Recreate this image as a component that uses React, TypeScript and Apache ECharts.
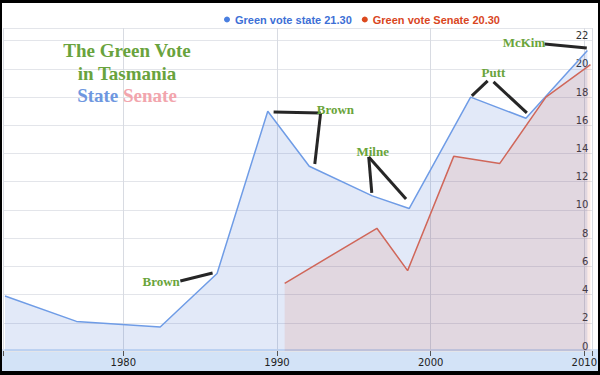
import React, { useEffect, useRef } from "react";
import * as echarts from "echarts";

// State election results (year, % Green vote)
const stateYears = [1972.3, 1976.95, 1982.4, 1986.1, 1989.4, 1992.1, 1996.2, 1998.6, 2002.6, 2006.2, 2010.2];
const stateVotes = [3.9, 2.1, 1.7, 5.5, 17.0, 13.1, 11.0, 10.1, 18.0, 16.5, 21.3];

// Senate election results in Tasmania
const senateYears = [1990.5, 1996.5, 1998.5, 2001.5, 2004.5, 2007.5, 2010.4];
const senateVotes = [4.8, 8.7, 5.7, 13.8, 13.3, 18.0, 20.3];

const seriesNames = ["Green vote state", "Green vote Senate"];

// Annotations (names of leaders) in data coordinates
const annotationLabels = ["Brown", "Brown", "Milne", "Putt", "McKim"];
const annotationLabelPos = [
  [1982.46, 4.96],
  [1993.8, 17.09],
  [1996.23, 14.11],
  [2004.09, 19.72],
  [2006.07, 21.84],
];
const annotationSegments = [
  [[1983.71, 4.96], [1985.81, 5.53]],
  [[1989.78, 16.95], [1992.84, 16.88]],
  [[1992.84, 16.88], [1992.46, 13.26]],
  [[1995.97, 13.76], [1996.17, 11.21]],
  [[1995.97, 13.76], [1998.4, 10.78]],
  [[2002.68, 18.09], [2003.71, 19.15]],
  [[2004.09, 19.08], [2006.26, 16.88]],
  [[2007.41, 21.77], [2010.16, 21.49]],
];

export default function App() {
  const ref = useRef<HTMLDivElement>(null);

  useEffect(() => {
    document.body.style.margin = "0";
    if (!ref.current) return;
    const chart = echarts.init(ref.current, undefined, { renderer: "svg" });
    const lastState = stateVotes[stateVotes.length - 1];
    const lastSenate = senateVotes[senateVotes.length - 1];
    const titleFont = "bold 19px 'Liberation Serif'";

    chart.setOption({
      animation: false,
      grid: { left: 0, right: 0, top: 28, bottom: 24, containLabel: false },
      legend: {
        left: 219,
        top: 9,
        icon: "circle",
        itemWidth: 6,
        itemHeight: 6,
        itemGap: 10,
        selectedMode: false,
        textStyle: { fontFamily: "Liberation Sans", fontWeight: "bold", fontSize: 11 },
        formatter: (name: string) =>
          name === seriesNames[0] ? `${name} ${lastState.toFixed(2)}` : `${name} ${lastSenate.toFixed(2)}`,
        data: [
          { name: seriesNames[0], itemStyle: { color: "#4a7fe0" }, textStyle: { color: "#3d6fd6" } },
          { name: seriesNames[1], itemStyle: { color: "#dc4a1e" }, textStyle: { color: "#d9461e" } },
        ],
      },
      xAxis: {
        type: "value",
        min: 1972.17,
        max: 2010.53,
        axisLine: { show: false },
        axisTick: { show: true, length: 5, lineStyle: { color: "#555" } },
        axisLabel: {
          fontSize: 10,
          fontFamily: "DejaVu Sans",
          color: "#222",
          margin: 6,
          formatter: (v: number) => (Math.abs(v - Math.round(v / 10) * 10) < 1e-6 ? String(Math.round(v)) : ""),
        },
        splitLine: { show: true, lineStyle: { color: "#d8dbe2" } },
      },
      yAxis: {
        type: "value",
        position: "right",
        min: 0,
        max: 22.9,
        interval: 2,
        axisLine: { show: false },
        axisTick: { show: false },
        axisLabel: {
          inside: true,
          verticalAlign: "bottom",
          margin: 4,
          fontSize: 10,
          fontFamily: "DejaVu Sans",
          color: "#333",
          formatter: (v: number) => (Number.isInteger(v) ? String(v) : ""),
        },
        splitLine: { show: true, lineStyle: { color: "#e3e5ea" } },
      },
      series: [
        {
          type: "line",
          name: seriesNames[0],
          data: stateYears.map((y, i) => [y, stateVotes[i]]),
          symbol: "none",
          showSymbol: false,
          lineStyle: { color: "#6f9ce6", width: 1.5 },
          itemStyle: { color: "#6f9ce6" },
          areaStyle: { color: "#3366cc", opacity: 0.14 },
          z: 2,
        },
        {
          type: "line",
          name: seriesNames[1],
          data: senateYears.map((y, i) => [y, senateVotes[i]]),
          symbol: "none",
          showSymbol: false,
          lineStyle: { color: "#d0675a", width: 1.5 },
          itemStyle: { color: "#d0675a" },
          areaStyle: { color: "#dc3912", opacity: 0.1 },
          z: 3,
          markLine: {
            silent: true,
            symbol: ["none", "none"],
            label: { show: false },
            emphasis: { disabled: true },
            lineStyle: { color: "#262626", width: 3, type: "solid", opacity: 1 },
            data: annotationSegments.map((s) => [{ coord: s[0] }, { coord: s[1] }]),
          },
          markPoint: {
            silent: true,
            data: annotationLabels.map((t, i) => ({
              coord: annotationLabelPos[i],
              name: t,
              value: t,
              symbol: "circle",
              symbolSize: 1,
              itemStyle: { color: "rgba(0,0,0,0)" },
              label: {
                show: true,
                position: "inside",
                formatter: t,
                color: "#6aa43a",
                fontFamily: "Liberation Serif",
                fontWeight: "bold",
                fontSize: 13,
              },
            })),
          },
        },
      ],
      graphic: [
        {
          type: "text",
          x: 127,
          y: 50,
          style: {
            text: "The Green Vote",
            align: "center",
            verticalAlign: "middle",
            fill: "#69a33d",
            font: titleFont,
          },
          z: 10,
        },
        {
          type: "text",
          x: 127,
          y: 73,
          style: {
            text: "in Tasmania",
            align: "center",
            verticalAlign: "middle",
            fill: "#69a33d",
            font: titleFont,
          },
          z: 10,
        },
        {
          type: "text",
          x: 127,
          y: 95,
          style: {
            text: "{a|State} {b|Senate}",
            align: "center",
            verticalAlign: "middle",
            font: titleFont,
            rich: {
              a: { fill: "#6e97e0", font: titleFont },
              b: { fill: "#f2a5ad", font: titleFont },
            },
          },
          z: 10,
        },
      ],
    });
    return () => chart.dispose();
  }, []);

  return (
    <div
      style={{
        position: "relative",
        width: 600,
        height: 375,
        background: "linear-gradient(to bottom, #ffffff 0px, #ffffff 349px, #d3e3f7 349px, #d3e3f7 375px)",
      }}
    >
      <div ref={ref} style={{ position: "absolute", left: 0, top: 0, width: 600, height: 375 }} />
      <div
        style={{
          position: "absolute",
          left: 0,
          top: 0,
          width: 600,
          height: 375,
          boxSizing: "border-box",
          borderStyle: "solid",
          borderColor: "#000",
          borderWidth: "3px 2px 4px 2px",
          pointerEvents: "none",
        }}
      />
    </div>
  );
}
